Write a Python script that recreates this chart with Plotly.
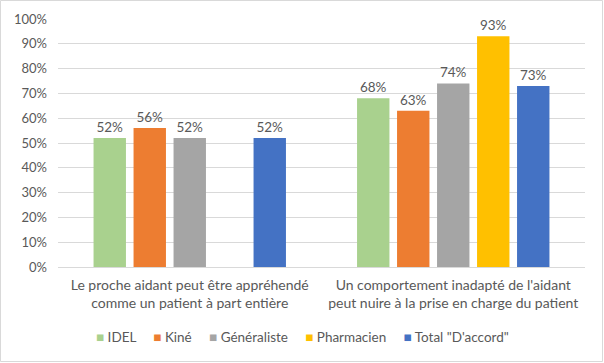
import plotly.graph_objects as go

categories = ["Le proche aidant peut être appréhendé<br>comme un patient à part entière",
              "Un comportement inadapté de l'aidant<br>peut nuire à la prise en charge du patient"]
series_names = ["IDEL", "Kiné", "Généraliste", "Pharmacien", 'Total "D\'accord"']
idel = [0.52, 0.68]
kine = [0.56, 0.63]
generaliste = [0.52, 0.74]
pharmacien = [None, 0.93]
total = [0.52, 0.73]
colors = ["#a9d18e", "#ed7d31", "#a5a5a5", "#ffc000", "#4472c4"]
tick_vals = [0, 0.1, 0.2, 0.3, 0.4, 0.5, 0.6, 0.7, 0.8, 0.9, 1.0]
tick_text = ["0%", "10%", "20%", "30%", "40%", "50%", "60%", "70%", "80%", "90%", "100%"]

FONT = "Lato, Calibri, sans-serif"
GREY = "#595959"

fig = go.Figure()
for name, vals, col in zip(series_names, [idel, kine, generaliste, pharmacien, total], colors):
    fig.add_trace(go.Bar(
        name=name, x=categories, y=vals, marker_color=col, marker_line_width=0,
        text=[("" if v is None else f"{round(v*100)}%") for v in vals],
        textposition="outside", cliponaxis=False,
        textfont=dict(size=13.5, color=GREY, family=FONT),
        showlegend=False,
    ))

# legend as a single centred line of text with coloured squares
gap = "\u00a0" * 5
legend_text = gap.join(
    f"<span style='color:{c}'>■</span>\u00a0{n}" for n, c in zip(series_names, colors))

W, H = 604, 363
ml, mr, mt, mb = 58, 19, 19, 96
pw, ph = W - ml - mr, H - mt - mb

fig.update_layout(
    width=W, height=H,
    margin=dict(l=ml, r=mr, t=mt, b=mb, autoexpand=False),
    paper_bgcolor="white", plot_bgcolor="white",
    font=dict(family=FONT, size=13, color=GREY),
    barmode="group", bargap=0.241, bargroupgap=0.19,
    showlegend=False,
    xaxis=dict(showline=True, linecolor="#d9d9d9", linewidth=1, ticks="",
               tickfont=dict(size=14, color=GREY, family=FONT), ticklabelstandoff=5,
               automargin=False),
    yaxis=dict(range=[0, 1.0], tickvals=tick_vals, ticktext=tick_text,
               showgrid=True, gridcolor="#d9d9d9", gridwidth=1, zeroline=False,
               tickfont=dict(size=13, color=GREY, family=FONT), ticks="",
               ticklabelstandoff=10, automargin=False),
    annotations=[dict(text=legend_text, xref="paper", yref="paper",
                      x=(W / 2 - ml) / pw,
                      y=-(337 - (mt + ph)) / ph,
                      xanchor="center", yanchor="middle", showarrow=False,
                      font=dict(size=13.5, color=GREY, family=FONT))],
    shapes=[dict(type="rect", xref="paper", yref="paper",
                 x0=-(ml - 0.5) / pw, x1=1 + (mr - 1.5) / pw,
                 y0=-(mb - 1.5) / ph, y1=1 + (mt - 0.5) / ph,
                 line=dict(color="#d9d9d9", width=1), fillcolor="rgba(0,0,0,0)")],
)

fig.write_html("out.html", config={"displayModeBar": False},
               post_script="document.body.style.margin='0';document.body.style.padding='0';")
